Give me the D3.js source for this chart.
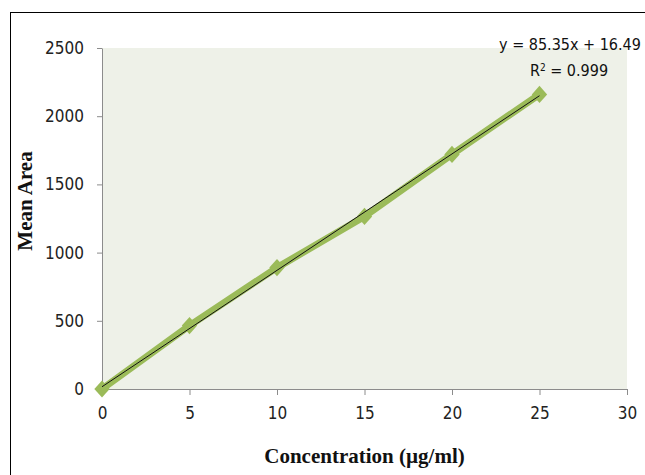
<!DOCTYPE html>
<html>
<head>
<meta charset="utf-8">
<script src="https://cdn.jsdelivr.net/npm/d3@7"></script>
<style>
  body { margin: 0; background: #fff; }
  .tick text { font-family: "Liberation Sans Narrow", "DejaVu Sans Condensed", sans-serif; font-stretch: condensed; font-size: 17px; fill: #222; }
</style>
</head>
<body>
<div id="chart"></div>
<script>
// calibration data
const concentration = [0, 5, 10, 15, 20, 25];
const meanArea = [0, 465, 890, 1265, 1720, 2160];
const xTicks = [0, 5, 10, 15, 20, 25, 30];
const yTicks = [0, 500, 1000, 1500, 2000, 2500];
const slope = 85.35;
const intercept = 16.49;
const eqText = 'y = 85.35x + 16.49';
const r2Text = '0.999';

const width = 645;
const height = 475;
const margin = { top: 48, right: 18, bottom: 86, left: 102 };

const svg = d3.select('#chart')
    .append('svg')
    .attr('width', width)
    .attr('height', height);

// outer frame
svg.append('rect')
    .attr('x', 10.5).attr('y', 12.5)
    .attr('width', 700).attr('height', 500)
    .attr('fill', 'none')
    .attr('stroke', '#000')
    .attr('stroke-width', 1);

const xScale = d3.scaleLinear()
    .domain([0, 30])
    .range([margin.left, width - margin.right]);

const yScale = d3.scaleLinear()
    .domain([0, 2500])
    .range([height - margin.bottom, margin.top]);

svg.append('rect')
    .attr('x', xScale(0)).attr('y', yScale(2500))
    .attr('width', xScale(30) - xScale(0))
    .attr('height', yScale(0) - yScale(2500))
    .attr('fill', '#eef1e8');

const xAxis = svg.append('g')
    .attr('transform', `translate(0,${yScale(0)})`)
    .call(d3.axisBottom(xScale).tickValues(xTicks).tickFormat(d3.format('d'))
        .tickSize(6).tickSizeOuter(0).tickPadding(12));

const yAxis = svg.append('g')
    .attr('transform', `translate(${xScale(0)},0)`)
    .call(d3.axisLeft(yScale).tickValues(yTicks).tickFormat(d3.format('d'))
        .tickSize(5).tickSizeOuter(0).tickPadding(13));

svg.selectAll('.domain, .tick line').attr('stroke', '#8c8c8c');
xAxis.selectAll('.tick text').attr('dy', '0.71em');

// series line
const line = d3.line()
    .x((d, i) => xScale(concentration[i]))
    .y((d) => yScale(d));

svg.append('path')
    .datum(meanArea)
    .attr('d', line)
    .attr('fill', 'none')
    .attr('stroke', '#9bbb59')
    .attr('stroke-width', 7)
    .attr('stroke-linejoin', 'round');

svg.selectAll('.marker')
    .data(meanArea)
    .join('path')
    .attr('class', 'marker')
    .attr('d', d3.symbol(d3.symbolDiamond2, 150))
    .attr('transform', (d, i) => `translate(${xScale(concentration[i])},${yScale(d)}) scale(1,1.12)`)
    .attr('fill', '#9bbb59');

// linear trendline
const x0 = concentration[0];
const x1 = concentration[concentration.length - 1];
svg.append('line')
    .attr('x1', xScale(x0)).attr('y1', yScale(slope * x0 + intercept))
    .attr('x2', xScale(x1)).attr('y2', yScale(slope * x1 + intercept))
    .attr('stroke', '#111')
    .attr('stroke-width', 1);

// equation labels
const eqFont = '"Liberation Sans Narrow", "DejaVu Sans Condensed", sans-serif';
svg.append('text')
    .attr('x', 570).attr('y', 50)
    .attr('text-anchor', 'middle')
    .style('font-family', eqFont)
    .style('font-stretch', 'condensed')
    .style('font-size', '16px')
    .attr('fill', '#111')
    .text(eqText);

const r2 = svg.append('text')
    .attr('x', 569).attr('y', 76)
    .attr('text-anchor', 'middle')
    .style('font-family', eqFont)
    .style('font-stretch', 'condensed')
    .style('font-size', '16px')
    .attr('fill', '#111');
r2.append('tspan').text('R');
r2.append('tspan').attr('baseline-shift', 'super').style('font-size', '10px').text('2');
r2.append('tspan').text(' = ' + r2Text);

// axis titles
svg.append('text')
    .attr('x', (xScale(0) + xScale(30)) / 2)
    .attr('y', 463)
    .attr('text-anchor', 'middle')
    .style('font-family', '"Liberation Serif", "Times New Roman", serif')
    .style('font-weight', 'bold')
    .style('font-size', '21px')
    .attr('fill', '#111')
    .text('Concentration (µg/ml)');

svg.append('text')
    .attr('transform', 'translate(32,201) rotate(-90)')
    .attr('text-anchor', 'middle')
    .style('font-family', '"Liberation Serif", "Times New Roman", serif')
    .style('font-weight', 'bold')
    .style('font-size', '21px')
    .attr('fill', '#111')
    .text('Mean Area');
</script>
</body>
</html>
